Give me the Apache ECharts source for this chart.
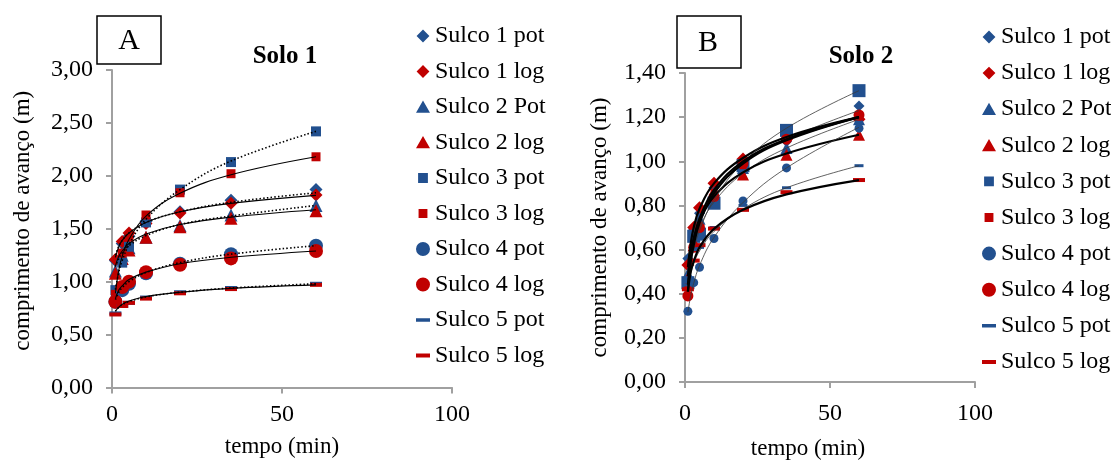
<!DOCTYPE html>
<html>
<head>
<meta charset="utf-8">
<script src="https://cdn.jsdelivr.net/npm/echarts@6/dist/echarts.min.js"></script>
<style>
html,body{margin:0;padding:0;background:#fff}
#container{width:1111px;height:465px}
</style>
</head>
<body>
<div id="container"></div>
<script>
var tempo = [1, 3, 5, 10, 20, 35, 60];
var tempoTend = [1, 2, 3, 5, 10, 20, 35, 60];

var nomes = ['Sulco 1 pot', 'Sulco 1 log', 'Sulco 2 Pot', 'Sulco 2 log', 'Sulco 3 pot',
             'Sulco 3 log', 'Sulco 4 pot', 'Sulco 4 log', 'Sulco 5 pot', 'Sulco 5 log'];

// Solo 1 - pontos observados
var a1pot = [1.20, 1.36, 1.43, 1.57, 1.66, 1.77, 1.87];
var a1log = [1.21, 1.38, 1.46, 1.55, 1.65, 1.74, 1.82];
var a2pot = [1.10, 1.25, 1.32, 1.42, 1.53, 1.63, 1.72];
var a2log = [1.08, 1.22, 1.30, 1.42, 1.52, 1.60, 1.67];
var a3pot = [0.92, 1.18, 1.33, 1.56, 1.87, 2.13, 2.42];
var a3log = [0.88, 1.27, 1.42, 1.63, 1.84, 2.02, 2.18];
var a4pot = [0.81, 0.92, 0.98, 1.08, 1.17, 1.26, 1.34];
var a4log = [0.81, 0.95, 1.00, 1.09, 1.16, 1.22, 1.29];
var a5pot = [0.70, 0.77, 0.80, 0.85, 0.90, 0.94, 0.98];
var a5log = [0.69, 0.77, 0.80, 0.84, 0.89, 0.93, 0.97];

// Solo 1 - linhas de tendencia
var ta1pot = [1.25, 1.335, 1.39, 1.46, 1.56, 1.66, 1.75, 1.84];
var ta1log = [1.23, 1.33, 1.39, 1.46, 1.56, 1.66, 1.74, 1.815];
var ta2pot = [1.14, 1.22, 1.27, 1.34, 1.435, 1.54, 1.62, 1.72];
var ta2log = [1.15, 1.24, 1.29, 1.36, 1.45, 1.54, 1.61, 1.68];
var ta3pot = [0.925, 1.09, 1.20, 1.35, 1.59, 1.87, 2.14, 2.42];
var ta3log = [0.89, 1.11, 1.24, 1.40, 1.62, 1.835, 2.01, 2.18];
var ta4pot = [0.83, 0.90, 0.944, 1.00, 1.086, 1.18, 1.26, 1.34];
var ta4log = [0.84, 0.92, 0.96, 1.02, 1.09, 1.17, 1.23, 1.29];
var ta5pot = [0.72, 0.758, 0.782, 0.812, 0.856, 0.90, 0.94, 0.98];
var ta5log = [0.72, 0.76, 0.787, 0.818, 0.86, 0.90, 0.937, 0.97];

// Solo 2 - pontos observados
var b1pot = [0.56, 0.69, 0.765, 0.88, 1.00, 1.09, 1.25];
var b1log = [0.53, 0.70, 0.79, 0.90, 1.01, 1.10, 1.19];
var b2pot = [0.49, 0.68, 0.74, 0.86, 0.97, 1.06, 1.19];
var b2log = [0.47, 0.62, 0.70, 0.85, 0.94, 1.03, 1.12];
var b3pot = [0.45, 0.66, 0.67, 0.81, 0.98, 1.14, 1.32];
var b3log = [0.43, 0.62, 0.71, 0.86, 0.98, 1.10, 1.20];
var b4pot = [0.32, 0.45, 0.52, 0.65, 0.82, 0.97, 1.15];
var b4log = [0.39, 0.61, 0.70, 0.84, 0.99, 1.10, 1.21];
var b5pot = [0.44, 0.60, 0.61, 0.70, 0.80, 0.88, 0.98];
var b5log = [0.42, 0.55, 0.62, 0.695, 0.78, 0.86, 0.915];

// Solo 2 - linhas de tendencia
var tb1pot = [0.55, 0.63, 0.68, 0.75, 0.86, 0.99, 1.10, 1.23];
var tb1log = [0.52, 0.63, 0.70, 0.785, 0.90, 1.015, 1.11, 1.20];
var tb2pot = [0.50, 0.58, 0.63, 0.70, 0.815, 0.945, 1.06, 1.19];
var tb2log = [0.48, 0.59, 0.65, 0.73, 0.84, 0.95, 1.035, 1.12];
var tb3pot = [0.45, 0.54, 0.60, 0.686, 0.826, 0.994, 1.15, 1.32];
var tb3log = [0.44, 0.57, 0.645, 0.74, 0.87, 1.00, 1.10, 1.20];
var tb4pot = [0.317, 0.393, 0.447, 0.528, 0.655, 0.813, 0.97, 1.154];
var tb4log = [0.41, 0.545, 0.62, 0.72, 0.855, 0.99, 1.095, 1.20];
var tb5pot = [0.43, 0.494, 0.536, 0.594, 0.682, 0.784, 0.88, 0.98];
var tb5log = [0.41, 0.50, 0.546, 0.61, 0.694, 0.78, 0.85, 0.915];

var soloA = [a1pot, a1log, a2pot, a2log, a3pot, a3log, a4pot, a4log, a5pot, a5log];
var tendA = [ta1pot, ta1log, ta2pot, ta2log, ta3pot, ta3log, ta4pot, ta4log, ta5pot, ta5log];
var soloB = [b1pot, b1log, b2pot, b2log, b3pot, b3log, b4pot, b4log, b5pot, b5log];
var tendB = [tb1pot, tb1log, tb2pot, tb2log, tb3pot, tb3log, tb4pot, tb4log, tb5pot, tb5log];

var AZUL = '#22508F', VERM = '#C00000';
var FONTE = 'Liberation Serif';
var simbolos = ['diamond', 'diamond', 'triangle', 'triangle', 'rect', 'rect', 'circle', 'circle', 'rect', 'rect'];
var tamA = [13, 13, 13, 13, 10, 9, 14, 14, [12, 4], [12, 4]];
var tamB = [11, 13, 12, 12, 13, 7, 9, 11, [9, 3], [12, 4]];
var caixa = 'M0,0L0,0ZM12,12L12,12Z';
var icones = [
  'path://' + caixa + 'M6,0.5L11.5,6L6,11.5L0.5,6Z',
  'path://' + caixa + 'M6,0.5L11.5,6L6,11.5L0.5,6Z',
  'path://' + caixa + 'M6,0.5L12,11H0Z',
  'path://' + caixa + 'M6,0.5L12,11H0Z',
  'path://' + caixa + 'M1.8,1.8H10.2V10.2H1.8Z',
  'path://' + caixa + 'M2.2,2.2H9.8V9.8H2.2Z',
  'path://' + caixa + 'M6,0A6,6,0,1,1,5.99,0Z',
  'path://' + caixa + 'M6,0A6,6,0,1,1,5.99,0Z',
  'path://' + caixa + 'M0,4.5H12V7.5H0Z',
  'path://' + caixa + 'M0,4.3H12V7.7H0Z'
];

function fmt(v) { return v.toFixed(2).replace('.', ','); }

var series = [];
function pontos(lista, xs) { return xs.map(function (t, i) { return [t, lista[i]]; }); }

function painel(idx, obs, tend, tam, estiloPot, estiloLog) {
  for (var k = 0; k < 10; k++) {
    series.push({
      type: 'scatter', name: nomes[k], xAxisIndex: idx, yAxisIndex: idx,
      data: pontos(obs[k], tempo), symbol: simbolos[k], symbolSize: tam[k],
      itemStyle: { color: k % 2 ? VERM : AZUL, opacity: 1 }, z: 2, silent: true
    });
  }
  for (var k = 0; k < 10; k++) {
    series.push({
      type: 'line', xAxisIndex: idx, yAxisIndex: idx, data: pontos(tend[k], tempoTend),
      smooth: 0.4, symbol: 'none', showSymbol: false, silent: true, z: 3,
      lineStyle: k % 2 ? estiloLog : estiloPot
    });
  }
}
painel(0, soloA, tendA, tamA,
  { color: '#000', width: 1.6, type: [1.5, 2.2] },
  { color: '#000', width: 1.1 });
painel(1, soloB, tendB, tamB,
  { color: '#3a3a3a', width: 0.8 },
  { color: '#000', width: 2.2 });

function eixoX(gridIdx, margem, gap, pad) {
  return {
    type: 'value', gridIndex: gridIdx, min: 0, max: 100, interval: 50,
    name: 'tempo (min)', nameLocation: 'middle', nameGap: gap,
    nameTextStyle: { fontFamily: FONTE, fontSize: 23, color: '#000', padding: pad },
    axisLine: { lineStyle: { color: '#A0A0A0', width: 2 } },
    axisTick: { show: true, inside: false, length: 6, lineStyle: { color: '#A0A0A0', width: 2 } },
    axisLabel: { fontFamily: FONTE, fontSize: 24, color: '#000', margin: margem },
    splitLine: { show: false }
  };
}
function eixoY(gridIdx, max, intv, gap, pad) {
  return {
    type: 'value', gridIndex: gridIdx, min: 0, max: max, interval: intv,
    name: 'comprimento de avanço (m)', nameLocation: 'middle', nameGap: gap, nameRotate: 90,
    nameTextStyle: { fontFamily: FONTE, fontSize: 23, color: '#000', padding: pad },
    axisLine: { show: true, lineStyle: { color: '#A0A0A0', width: 2 } },
    axisTick: { show: true, inside: false, length: 6, lineStyle: { color: '#A0A0A0', width: 2 } },
    axisLabel: { fontFamily: FONTE, fontSize: 24, color: '#000', margin: 19, formatter: fmt },
    splitLine: { show: false }
  };
}

function legenda(esq, topo, gap) {
  return {
    orient: 'vertical', left: esq, top: topo, padding: 0, itemGap: gap,
    itemWidth: 14, itemHeight: 14, selectedMode: false,
    textStyle: { fontFamily: FONTE, fontSize: 24, color: '#000', lineHeight: 22 },
    data: nomes.map(function (n, k) { return { name: n, icon: icones[k] }; })
  };
}

var myChart = echarts.init(document.getElementById('container'));
myChart.setOption({
  animation: false,
  backgroundColor: '#fff',
  title: [
    { text: 'Solo 1', left: 280, top: 52, textAlign: 'center', textVerticalAlign: 'middle',
      textStyle: { fontFamily: FONTE, fontSize: 25, fontWeight: 'bold', color: '#000' } },
    { text: 'Solo 2', left: 856, top: 52, textAlign: 'center', textVerticalAlign: 'middle',
      textStyle: { fontFamily: FONTE, fontSize: 25, fontWeight: 'bold', color: '#000' } }
  ],
  grid: [
    { left: 112, top: 70, width: 340, height: 317.5 },
    { left: 685, top: 73, width: 290, height: 315 }
  ],
  xAxis: [eixoX(0, 15, 48, [0, 0, 0, 0]), eixoX(1, 20, 55, [0, 44, 0, 0])],
  yAxis: [eixoY(0, 3, 0.5, 78, [0, 0, 0, 16]), eixoY(1, 1.4, 0.2, 74, [0, 0, 0, 0])],
  legend: [legenda(416, 24, 11.5), legenda(982, 25, 12.1)],
  graphic: [
    { type: 'rect', shape: { x: 97, y: 16, width: 64, height: 48 },
      style: { fill: '#fff', stroke: '#000', lineWidth: 1.5 } },
    { type: 'text', x: 129, y: 41, style: { text: 'A', fontFamily: FONTE, fontSize: 30,
      fill: '#000', align: 'center', verticalAlign: 'middle' } },
    { type: 'rect', shape: { x: 677, y: 16, width: 64, height: 52 },
      style: { fill: '#fff', stroke: '#000', lineWidth: 1.5 } },
    { type: 'text', x: 708, y: 43, style: { text: 'B', fontFamily: FONTE, fontSize: 30,
      fill: '#000', align: 'center', verticalAlign: 'middle' } }
  ],
  series: series
});
</script>
</body>
</html>
